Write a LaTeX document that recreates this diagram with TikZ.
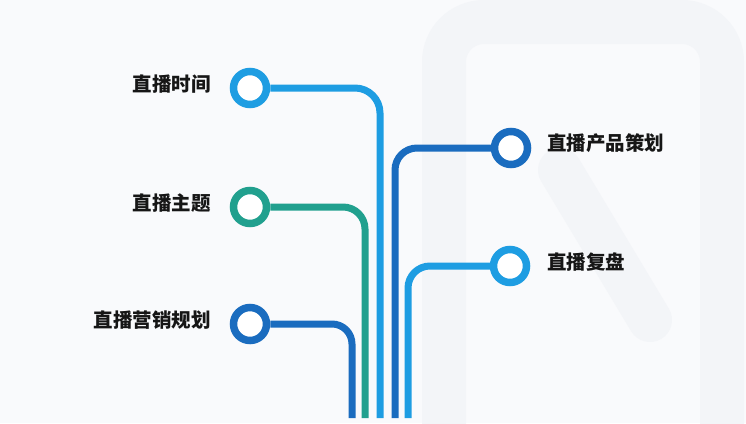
\documentclass[tikz,border=0pt]{standalone}
\usepackage{fontspec}
\newfontfamily\cjk{Noto Sans CJK SC}
\definecolor{bgc}{HTML}{F9FAFC}
\definecolor{wmc}{HTML}{F3F5F8}
\definecolor{lblue}{HTML}{1E9DE2}
\definecolor{teal}{HTML}{21A08E}
\definecolor{dblue}{HTML}{1A6CBF}
\definecolor{txt}{HTML}{161616}
\tikzset{
  ring/.style={circle, draw=#1, line width=7.5pt, fill=white, minimum size=33pt, inner sep=0pt},
  wire/.style={draw=#1, line width=7pt, line cap=butt},
  lbl/.style={font=\cjk\bfseries\fontsize{19.5pt}{20pt}\selectfont, text=txt, inner sep=0pt}
}
\begin{document}
\begin{tikzpicture}[x=1pt,y=-1pt]
\useasboundingbox (0,0) rectangle (746,423);
\fill[bgc] (0,0) rectangle (746,423);
% faint watermark
\draw[wmc, line width=44pt, rounded corners=40pt] (444,430) -- (444,22) -- (722,22) -- (722,430);
\draw[wmc, line width=44pt, line cap=round] (560,170) -- (650,320);
% bottom coordinates
\coordinate (b1) at (380,418);
\coordinate (b2) at (365,418);
\coordinate (b3) at (352,418);
\coordinate (b4) at (395,418);
\coordinate (b5) at (408,418);
% rings
\node[ring=lblue] (c1) at (250,88) {};
\node[ring=teal]  (c2) at (250,207) {};
\node[ring=dblue] (c3) at (250,324) {};
\node[ring=dblue] (c4) at (511,148) {};
\node[ring=lblue] (c5) at (510,266) {};
% wires
\draw[wire=lblue, rounded corners=25pt] (c1.east) -| (b1);
\draw[wire=teal, rounded corners=22pt] (c2.east) -| (b2);
\draw[wire=dblue, rounded corners=20pt] (c3.east) -| (b3);
\draw[wire=dblue, rounded corners=22pt] (c4.west) -| (b4);
\draw[wire=lblue, rounded corners=22pt] (c5.west) -| (b5);
% labels
\node[lbl, anchor=east] (t1) at (211,84) {直播时间};
\node[lbl, anchor=east] (t2) at (211,203) {直播主题};
\node[lbl, anchor=east] (t3) at (211,320) {直播营销规划};
\node[lbl, anchor=west] (t4) at (547,143) {直播产品策划};
\node[lbl, anchor=west] (t5) at (547,262) {直播复盘};
\end{tikzpicture}
\end{document}
